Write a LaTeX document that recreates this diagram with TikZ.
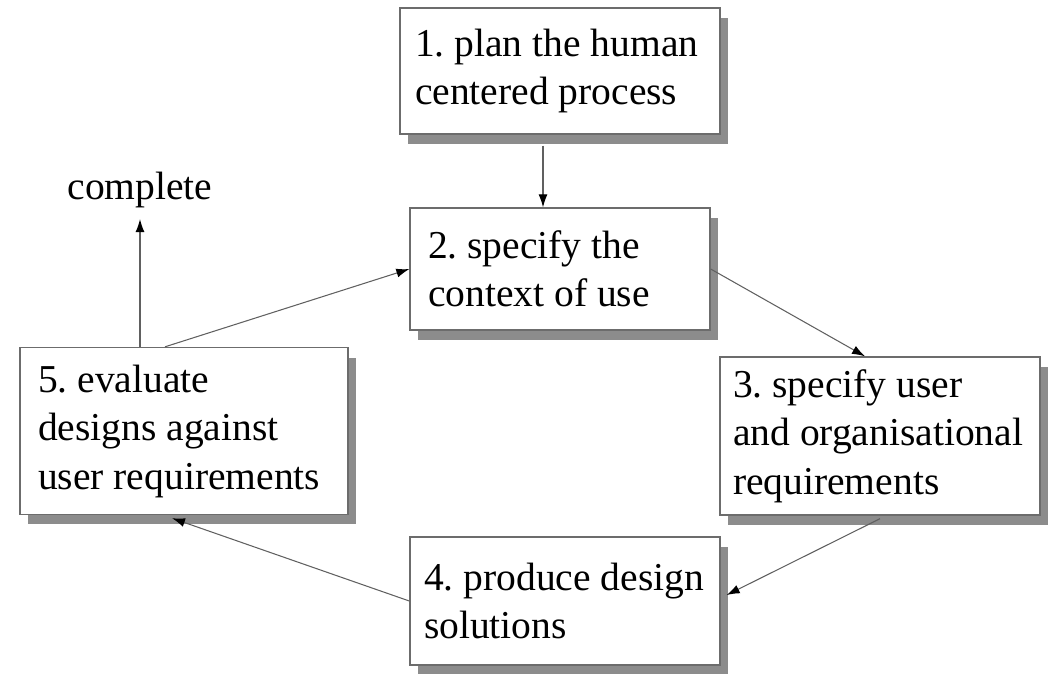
\documentclass[tikz,border=0pt]{standalone}
\usepackage{fontspec}
\setmainfont{Liberation Serif}
\frenchspacing
\usetikzlibrary{arrows.meta,shadows}

\tikzset{
  stage/.style={draw=gray!85!black, fill=white, line width=0.8pt, align=flush left,
    inner xsep=0.36cm, inner ysep=0pt, font=\fontsize{22.5}{27.6}\selectfont,
    drop shadow={shadow xshift=0.16cm, shadow yshift=-0.2cm, fill=gray!90, opacity=1}},
  link/.style={draw=gray!75!black, line width=0.6pt,
    -{Latex[length=2.6mm,width=1.8mm,color=black]}}
}

\begin{document}
\begin{tikzpicture}[x=0.02cm,y=-0.02cm]
  \useasboundingbox (0,0) rectangle (1053,673);
  \node at (560,71)[stage, inner xsep=0.3cm, text width=5.8cm, minimum height=2.52cm] (plan) {1. plan the human\\centered process};
  \node at (560,269)[stage, text width=5.28cm, minimum height=2.44cm] (ctx) {2. specify the\\context of use};
  \node at (880,436)[stage, inner xsep=0.26cm, text width=5.88cm, minimum height=3.16cm] (reqs) {3. specify user\\and organisational\\requirements};
  \node at (565,601)[stage, inner xsep=0.28cm, text width=5.64cm, minimum height=2.56cm] (solve) {4. produce design\\solutions};
  \node at (184,431)[stage, text width=5.84cm, minimum height=3.34cm] (eval) {5. evaluate\\designs against\\user requirements};
  \node at (140,190)[font=\fontsize{22.5}{27.6}\selectfont] (done) {complete};

  \draw[link] ([xshift=-0.34cm,yshift=-0.22cm]plan.south) -- ([xshift=-0.34cm]ctx.north);
  \draw[link] (eval.north -| done.south) -- ([yshift=-0.1cm]done.south);
  \draw[link] ([xshift=-0.38cm]eval.north) -- (ctx.west);
  \draw[link] (ctx.east) -- ([xshift=-0.3cm]reqs.north);
  \draw[link] ([yshift=-0.06cm]reqs.south) -- ([xshift=0.12cm,yshift=0.12cm]solve.east);
  \draw[link] (solve.west) -- ([xshift=-0.24cm,yshift=-0.06cm]eval.south);
\end{tikzpicture}
\end{document}
